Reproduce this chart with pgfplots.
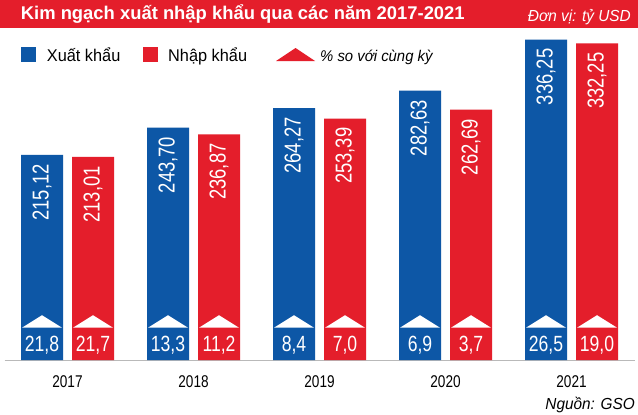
\documentclass[border=0pt]{standalone}
\usepackage{fontspec}
\setmainfont{Liberation Sans}
\newfontfamily\condf[FakeStretch=0.80]{Liberation Sans}
\newfontfamily\legf[FakeStretch=0.96]{Liberation Sans}
\usepackage{graphicx}
\usepackage{pgfplots}
\pgfplotsset{compat=1.18}
\definecolor{cblue}{HTML}{0D57A6}
\definecolor{cred}{HTML}{E41E2B}
\pgfdeclareplotmark{roof}{%
  \pgfpathmoveto{\pgfqpoint{-20bp}{0bp}}%
  \pgfpathlineto{\pgfqpoint{20bp}{0bp}}%
  \pgfpathlineto{\pgfqpoint{0bp}{12.5bp}}%
  \pgfpathclose\pgfusepathqfill}
\begin{document}
\begin{tikzpicture}[x=1bp,y=1bp]
\useasboundingbox (0,0) rectangle (638,414);
\fill[white] (0,0) rectangle (638,414);
\fill[cred] (0,386) rectangle (638,414);
\node[anchor=base west, inner sep=0, text=white, font=\bfseries\fontsize{18.4bp}{18.4bp}\selectfont] at (20.7,394.7) {Kim ngạch xuất nhập khẩu qua các năm 2017-2021};
\node[anchor=base east, inner sep=0, text=white, font=\legf\itshape\fontsize{16bp}{16bp}\selectfont] at (631,392.3) {Đơn vị: tỷ USD};
% legend
\fill[cblue] (21,352) rectangle (36,367);
\node[anchor=base west, inner sep=0, font=\legf\fontsize{17bp}{17bp}\selectfont] at (46.7,352.3) {Xuất khẩu};
\fill[cred] (142.7,352) rectangle (157.7,367);
\node[anchor=base west, inner sep=0, font=\legf\fontsize{17bp}{17bp}\selectfont] at (168,352.3) {Nhập khẩu};
\fill[cred] (276,353) -- (315,353) -- (295.5,366) -- cycle;
\node[anchor=base west, inner sep=0, font=\legf\itshape\fontsize{15.5bp}{15.5bp}\selectfont] at (320,353) {\% so với cùng kỳ};
\node[anchor=base east, inner sep=0, font=\legf\itshape\fontsize{16bp}{16bp}\selectfont] at (635,5) {Nguồn: GSO};
\begin{axis}[
  at={(4.5bp,54bp)}, anchor=south west,
  scale only axis, width=630bp, height=360bp,
  xmin=-0.5, xmax=4.5, ymin=0, ymax=377.75,
  axis x line*=bottom, axis y line=none,
  x axis line style={draw=gray!55, line width=0.8bp, -},
  xtick={0,1,2,3,4}, xticklabels={2017,2018,2019,2020,2021},
  major tick length=0,
  xticklabel style={font=\condf\fontsize{17bp}{17bp}\selectfont, anchor=base, yshift=-27bp},
  clip=false,
  /pgf/number format/.cd, use comma, fixed, fixed zerofill, precision=2, 1000 sep={}, assume math mode=true,
]
\addplot[ybar, bar width=42bp, bar shift=-25.5bp, fill=cblue, draw=none]
  coordinates {(0,215.12) (1,243.70) (2,264.27) (3,282.63) (4,336.25)};
\addplot[ybar, bar width=42bp, bar shift=25.5bp, fill=cred, draw=none]
  coordinates {(0,213.01) (1,236.87) (2,253.39) (3,262.69) (4,332.25)};
% value labels inside bars
\addplot[draw=none, mark=none, point meta=y,
  nodes near coords={\scalebox{0.8}[1]{\pgfmathprintnumber{\pgfplotspointmeta}}},
  nodes near coords style={rotate=90, anchor=east, inner xsep=9bp, inner ysep=0pt, text=white, font=\fontsize{23bp}{23bp}\selectfont}]
  coordinates {(-0.2024,215.12) (0.7976,243.70) (1.7976,264.27) (2.7976,282.63) (3.7976,336.25)};
\addplot[draw=none, mark=none, point meta=y,
  nodes near coords={\scalebox{0.8}[1]{\pgfmathprintnumber{\pgfplotspointmeta}}},
  nodes near coords style={rotate=90, anchor=east, inner xsep=9bp, inner ysep=0pt, text=white, font=\fontsize{23bp}{23bp}\selectfont}]
  coordinates {(0.2024,213.01) (1.2024,236.87) (2.2024,253.39) (3.2024,262.69) (4.2024,332.25)};
% triangles
\addplot[only marks, mark=roof, mark options={fill=white, draw=none}]
  coordinates {(-0.2024,33.9) (0.7976,33.9) (1.7976,33.9) (2.7976,33.9) (3.7976,33.9)
               (0.2024,33.9) (1.2024,33.9) (2.2024,33.9) (3.2024,33.9) (4.2024,33.9)};
% percentage labels
\addplot[draw=none, mark=none, point meta=explicit, /pgf/number format/precision=1,
  nodes near coords,
  nodes near coords style={anchor=center, text=white, font=\condf\fontsize{22bp}{22bp}\selectfont}]
  coordinates {(-0.2024,15.5) [21.8] (0.7976,15.5) [13.3] (1.7976,15.5) [8.4] (2.7976,15.5) [6.9] (3.7976,15.5) [26.5]};
\addplot[draw=none, mark=none, point meta=explicit, /pgf/number format/precision=1,
  nodes near coords,
  nodes near coords style={anchor=center, text=white, font=\condf\fontsize{22bp}{22bp}\selectfont}]
  coordinates {(0.2024,15.5) [21.7] (1.2024,15.5) [11.2] (2.2024,15.5) [7.0] (3.2024,15.5) [3.7] (4.2024,15.5) [19.0]};
\end{axis}
\end{tikzpicture}
\end{document}
